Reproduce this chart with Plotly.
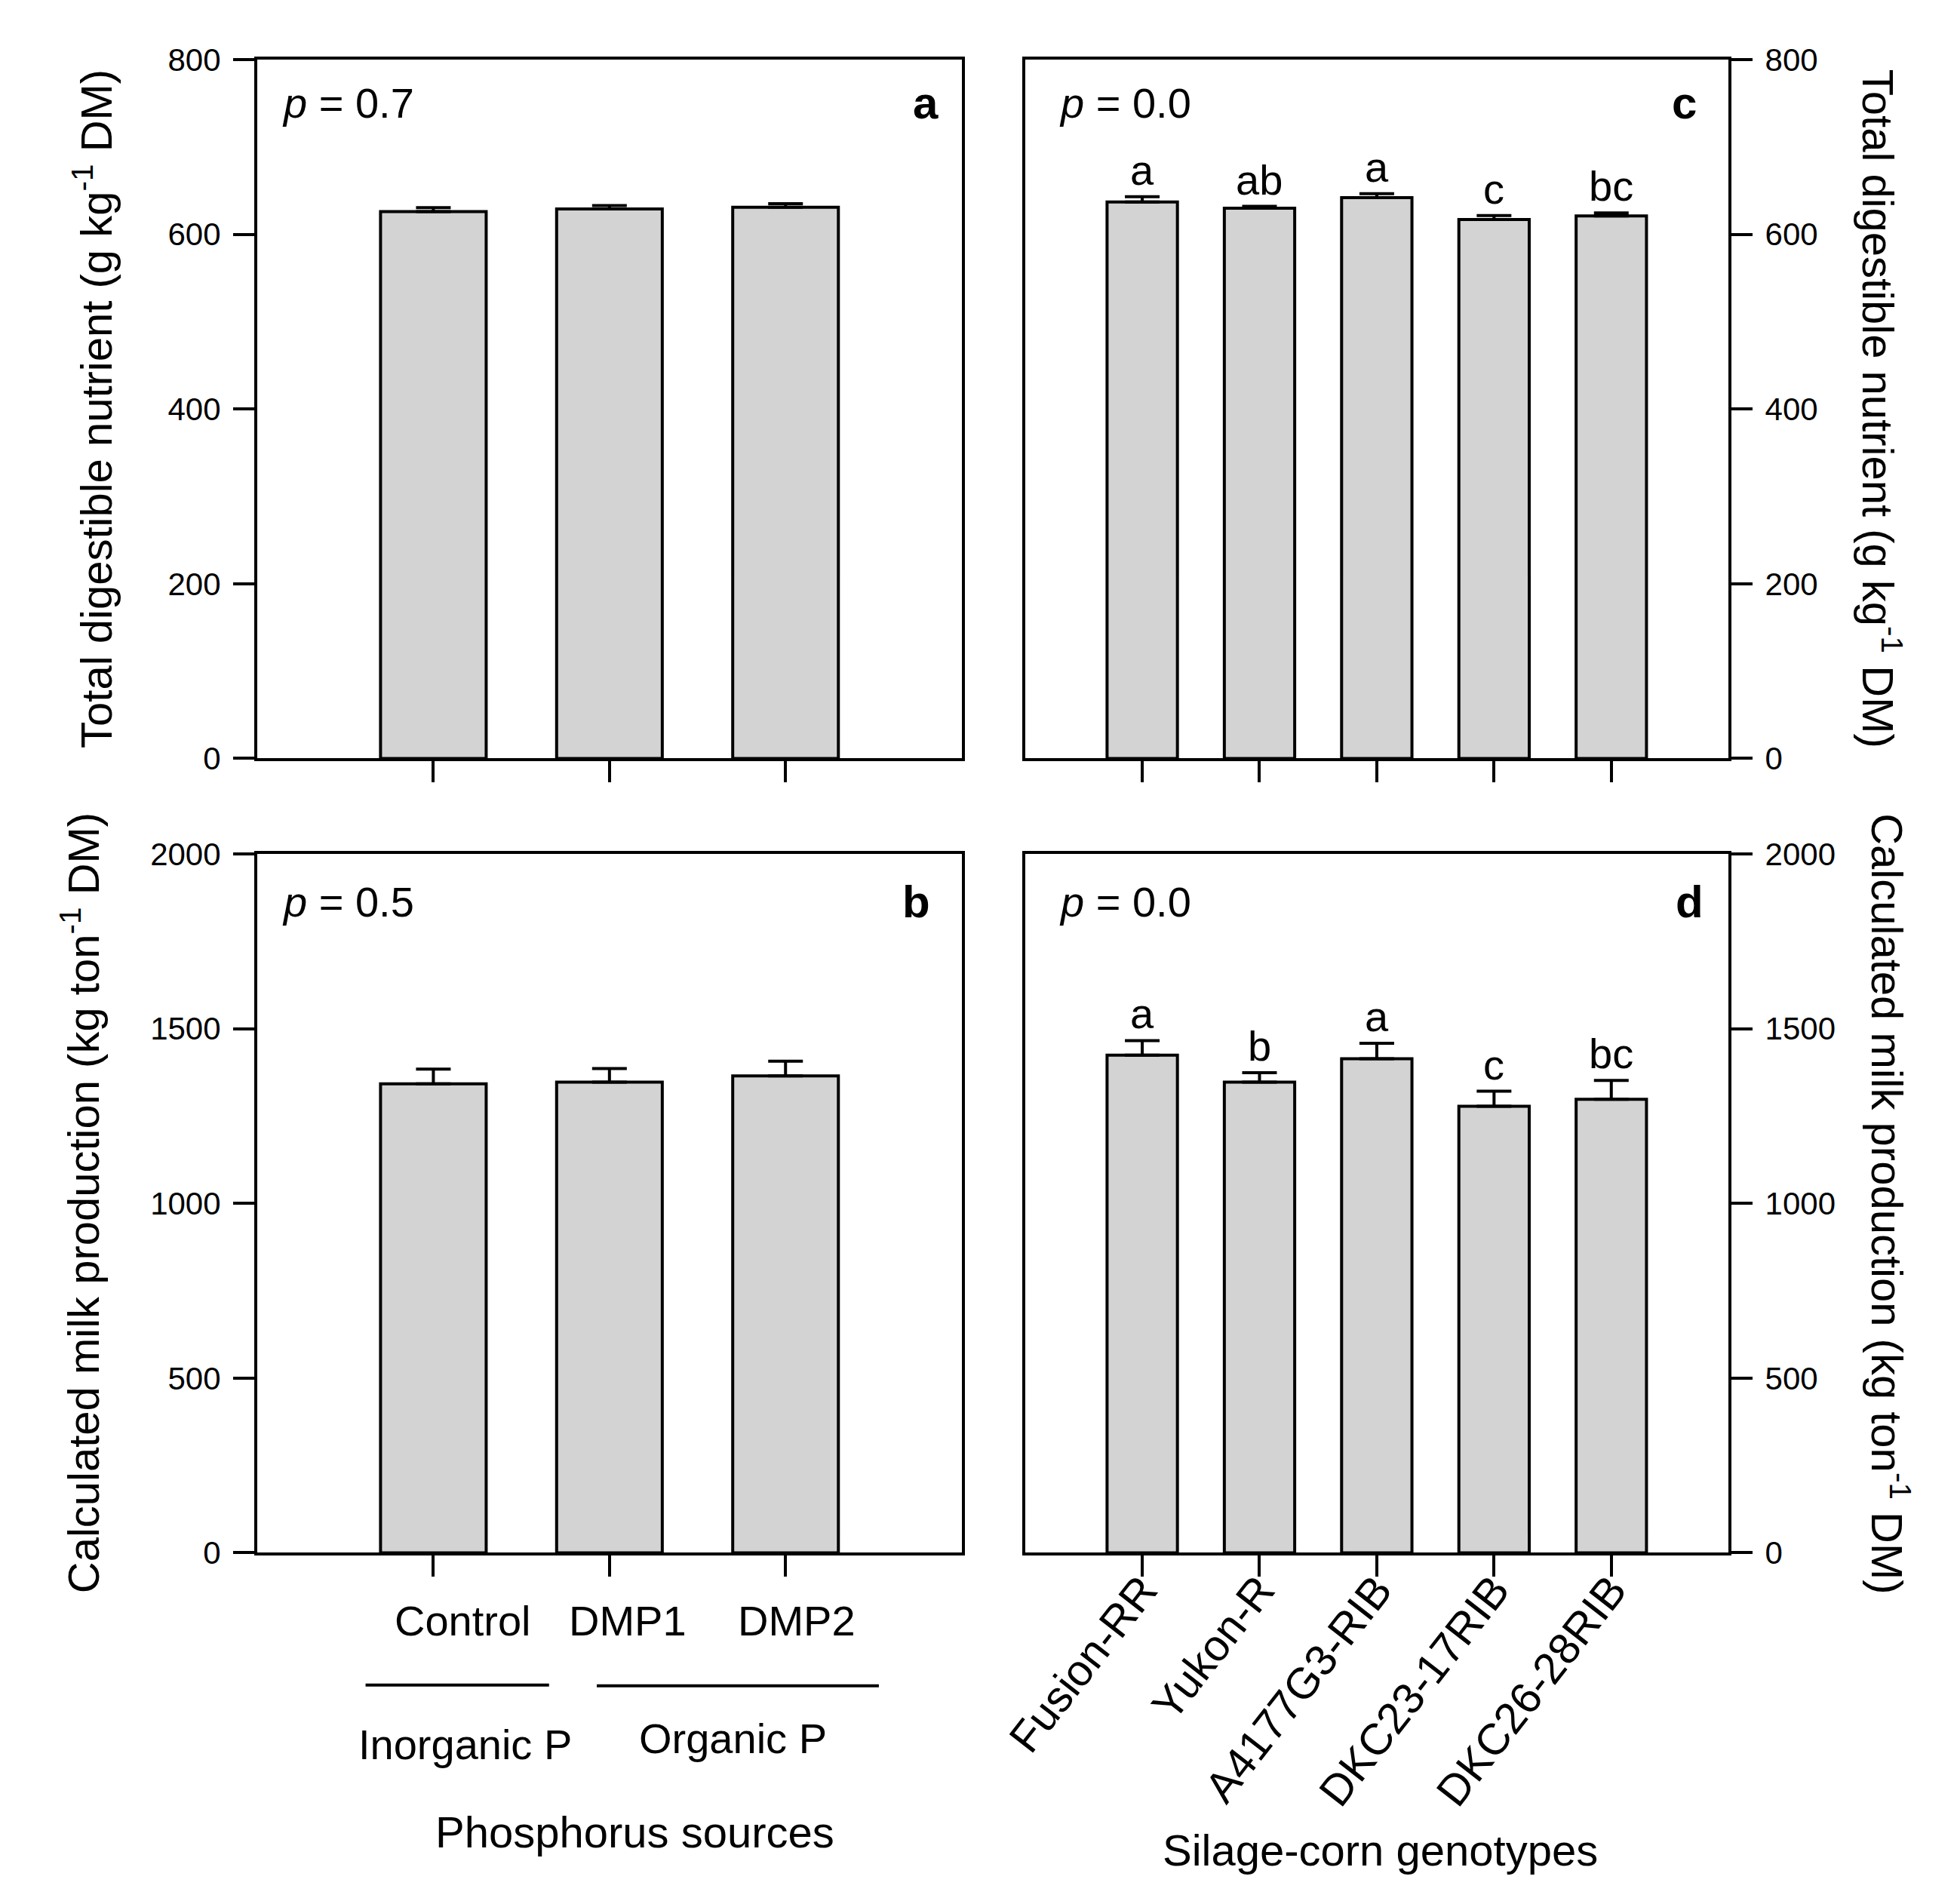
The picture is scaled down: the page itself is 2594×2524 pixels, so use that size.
import plotly.graph_objects as go

# Phosphorus sources (panels a, b)
sources = ['Control', 'DMP1', 'DMP2']
groups = ['Inorganic P', 'Organic P']
tdn_src = [626, 629, 631]
tdn_src_err = [4.5, 4, 4]
milk_src = [1342, 1347, 1365]
milk_src_err = [42, 39, 42]
p_src = ['0.7', '0.5']

# Silage-corn genotypes (panels c, d)
genotypes = ['Fusion-RR', 'Yukon-R', 'A4177G3-RIB', 'DKC23-17RIB', 'DKC26-28RIB']
tdn_gen = [637, 630, 642, 617, 621]
tdn_gen_err = [6, 2, 4.5, 4.5, 3.5]
tdn_letters = ['a', 'ab', 'a', 'c', 'bc']
milk_gen = [1424, 1347, 1414, 1278, 1298]
milk_gen_err = [42, 27, 44, 43, 54]
milk_letters = ['a', 'b', 'a', 'c', 'bc']
p_gen = ['0.0', '0.0']

FONT = 'Liberation Sans, Arial, sans-serif'
GREY = '#d3d3d3'
xs_src = list(range(1, len(sources) + 1))
xs_gen = list(range(1, len(genotypes) + 1))

fig = go.Figure()


def bars(x, y, err, xa, ya):
    fig.add_trace(go.Bar(
        x=x, y=y, width=0.6, xaxis=xa, yaxis=ya,
        marker=dict(color=GREY, line=dict(color='black', width=4)),
        error_y=dict(type='data', array=err, arrayminus=[0] * len(err), symmetric=False,
                     color='black', thickness=4, width=23),
        showlegend=False))


bars(xs_src, tdn_src, tdn_src_err, 'x', 'y')
bars(xs_gen, tdn_gen, tdn_gen_err, 'x2', 'y2')
bars(xs_src, milk_src, milk_src_err, 'x3', 'y3')
bars(xs_gen, milk_gen, milk_gen_err, 'x4', 'y4')

axis_common = dict(showline=True, linecolor='black', linewidth=4, mirror=True,
                   ticks='outside', ticklen=28, tickwidth=4, tickcolor='black',
                   showgrid=False, zeroline=False,
                   tickfont=dict(family=FONT, size=42, color='black'))

dom_l = [0.1168, 0.4815]
dom_r = [0.5143, 0.8786]
dom_top = [0.6066, 0.9806]
dom_bot = [0.1815, 0.5555]

fig.update_layout(
    width=2594, height=2524,
    margin=dict(l=0, r=0, t=0, b=0),
    plot_bgcolor='white', paper_bgcolor='white',
    font=dict(family=FONT, color='black'),
    xaxis=dict(axis_common, domain=dom_l, anchor='y', range=[0, 4],
               tickvals=xs_src, showticklabels=False),
    yaxis=dict(axis_common, domain=dom_top, anchor='x', range=[0, 800],
               tickvals=[0, 200, 400, 600, 800], ticklabelstandoff=8),
    xaxis2=dict(axis_common, domain=dom_r, anchor='y2', range=[0, 6],
                tickvals=xs_gen, showticklabels=False),
    yaxis2=dict(axis_common, domain=dom_top, anchor='x2', range=[0, 800], side='right',
                tickvals=[0, 200, 400, 600, 800], ticklabelstandoff=8),
    xaxis3=dict(axis_common, domain=dom_l, anchor='y3', range=[0, 4],
                tickvals=xs_src, showticklabels=False),
    yaxis3=dict(axis_common, domain=dom_bot, anchor='x3', range=[0, 2000],
                tickvals=[0, 500, 1000, 1500, 2000], ticklabelstandoff=8),
    xaxis4=dict(axis_common, domain=dom_r, anchor='y4', range=[0, 6],
                tickvals=xs_gen, ticktext=genotypes, tickangle=-52, ticklabelstandoff=-40,
                tickfont=dict(family=FONT, size=58, color='black')),
    yaxis4=dict(axis_common, domain=dom_bot, anchor='x4', range=[0, 2000], side='right',
                tickvals=[0, 500, 1000, 1500, 2000], ticklabelstandoff=8),
)

ann = []
# p values and panel letters
panels = [('x', 'y', p_src[0], 'a', 0.033, 0.969, 0.938),
          ('x2', 'y2', p_gen[0], 'c', 0.047, 0.957, 0.938),
          ('x3', 'y3', p_src[1], 'b', 0.033, 0.958, 0.932),
          ('x4', 'y4', p_gen[1], 'd', 0.047, 0.967, 0.932)]
for xa, ya, pv, lab, px, lx, py in panels:
    ann.append(dict(xref=xa + ' domain', yref=ya + ' domain', x=px, y=py,
                    xanchor='left', yanchor='middle', showarrow=False,
                    text='<i>p</i> = ' + pv, font=dict(size=56)))
    ann.append(dict(xref=xa + ' domain', yref=ya + ' domain', x=lx, y=py,
                    xanchor='right', yanchor='middle', showarrow=False,
                    text='<b>' + lab + '</b>', font=dict(size=60)))

# significance letters
for xa, ya, vals, errs, letters in [('x2', 'y2', tdn_gen, tdn_gen_err, tdn_letters),
                                    ('x4', 'y4', milk_gen, milk_gen_err, milk_letters)]:
    for x, v, e, t in zip(xs_gen, vals, errs, letters):
        ann.append(dict(xref=xa, yref=ya, x=x, y=v + e, yshift=2, xanchor='center',
                        yanchor='bottom', showarrow=False, text=t, font=dict(size=56)))

# category labels for phosphorus sources
for x, t, dx in zip(xs_src, sources, [39, 24, 15]):
    ann.append(dict(xref='x3', yref='paper', x=x, xshift=dx, y=0.1452, showarrow=False,
                    xanchor='center', yanchor='middle', text=t, font=dict(size=56)))
ann.append(dict(xref='x3', yref='paper', x=1.18, y=0.079, showarrow=False,
                xanchor='center', yanchor='middle', text=groups[0], font=dict(size=56)))
ann.append(dict(xref='x3', yref='paper', x=2.70, y=0.082, showarrow=False,
                xanchor='center', yanchor='middle', text=groups[1], font=dict(size=56)))
ann.append(dict(xref='x3', yref='paper', x=2.146, y=0.032, showarrow=False,
                xanchor='center', yanchor='middle', text='Phosphorus sources', font=dict(size=58)))
ann.append(dict(xref='x4', yref='paper', x=3.03, y=0.0226, showarrow=False,
                xanchor='center', yanchor='middle', text='Silage-corn genotypes', font=dict(size=58)))

# axis titles
tdn_title = 'Total digestible nutrient (g kg<sup>-1</sup> DM)'
milk_title = 'Calculated milk production (kg ton<sup>-1</sup> DM)'
for xa, ya, x, ang, t in [('paper', 'y domain', 0.0315, -90, tdn_title),
                          ('paper', 'y3 domain', 0.025, -90, milk_title),
                          ('paper', 'y2 domain', 0.958, 90, tdn_title),
                          ('paper', 'y4 domain', 0.9625, 90, milk_title)]:
    ann.append(dict(xref=xa, yref=ya, x=x, y=0.5, textangle=ang, showarrow=False,
                    xanchor='center', yanchor='middle', text=t, font=dict(size=58)))

fig.update_layout(annotations=ann)

# group lines under phosphorus source labels
fig.add_shape(type='line', xref='x3', yref='paper', x0=0.615, x1=1.657, y0=0.1107, y1=0.1107,
              line=dict(color='black', width=4))
fig.add_shape(type='line', xref='x3', yref='paper', x0=1.928, x1=3.53, y0=0.1103, y1=0.1103,
              line=dict(color='black', width=4))

fig.write_html("out.html")
